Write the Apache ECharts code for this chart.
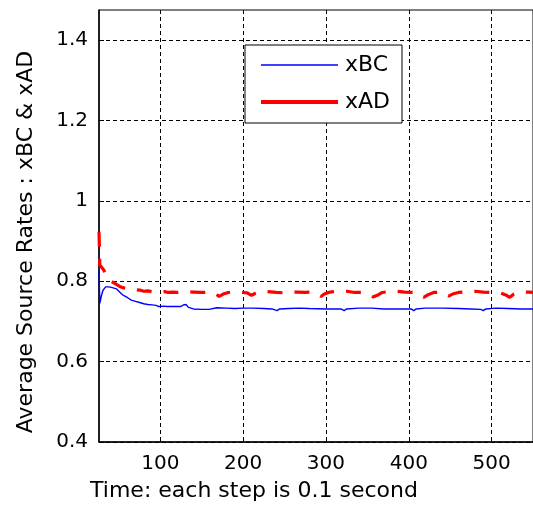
<!DOCTYPE html>
<html>
<head>
<meta charset="utf-8">
<script src="https://cdn.jsdelivr.net/npm/echarts@6/dist/echarts.min.js"></script>
<style>
html,body{margin:0;padding:0;background:#fff;}
#chart{width:533px;height:506px;}
</style>
</head>
<body>
<div id="chart"></div>
<script>
// ---- data ----
var xTicks = [100, 200, 300, 400, 500];
var yTicks = [0.4, 0.6, 0.8, 1.0, 1.2, 1.4];

var xbcSteps = [26, 27, 29, 31, 34, 38, 42, 47, 50, 53, 56, 59, 62, 65, 70, 75, 80, 85, 90, 95, 98, 100, 104, 108, 115, 125, 128, 131, 134, 140, 150, 155, 157, 159, 168, 180, 190, 200, 212, 225, 235, 241, 244, 255, 268, 280, 300, 318, 322, 325, 340, 355, 370, 390, 403, 406, 409, 420, 440, 460, 475, 487, 490, 493, 505, 520, 535, 550];
var xbcValues = [0.827, 0.745, 0.765, 0.778, 0.786, 0.786, 0.784, 0.781, 0.775, 0.769, 0.764, 0.761, 0.757, 0.753, 0.750, 0.747, 0.744, 0.742, 0.741, 0.740, 0.737, 0.736, 0.738, 0.737, 0.737, 0.737, 0.741, 0.742, 0.735, 0.731, 0.730, 0.730, 0.727, 0.730, 0.734, 0.733, 0.732, 0.733, 0.733, 0.732, 0.731, 0.727, 0.731, 0.732, 0.733, 0.732, 0.731, 0.731, 0.727, 0.731, 0.733, 0.733, 0.731, 0.731, 0.731, 0.727, 0.731, 0.733, 0.733, 0.732, 0.731, 0.730, 0.727, 0.731, 0.733, 0.732, 0.731, 0.731];

var xadSteps = [26, 27, 28, 31, 34, 37, 40, 43, 47, 51, 55, 60, 65, 70, 75, 80, 85, 90, 95, 100, 105, 110, 115, 120, 130, 140, 150, 160, 166, 171, 176, 182, 190, 198, 205, 210, 215, 222, 230, 240, 250, 258, 265, 275, 283, 290, 294, 298, 305, 315, 325, 335, 345, 352, 357, 362, 368, 375, 385, 395, 405, 413, 418, 423, 430, 440, 448, 453, 460, 470, 480, 490, 500, 510, 518, 522, 527, 535, 545, 550];
var xadValues = [0.923, 0.840, 0.840, 0.830, 0.820, 0.810, 0.800, 0.797, 0.792, 0.787, 0.784, 0.781, 0.782, 0.779, 0.778, 0.775, 0.776, 0.774, 0.775, 0.773, 0.774, 0.772, 0.773, 0.772, 0.774, 0.773, 0.772, 0.773, 0.770, 0.762, 0.768, 0.772, 0.774, 0.772, 0.771, 0.765, 0.770, 0.775, 0.774, 0.772, 0.771, 0.773, 0.773, 0.772, 0.773, 0.769, 0.762, 0.768, 0.773, 0.776, 0.775, 0.772, 0.772, 0.768, 0.761, 0.765, 0.772, 0.774, 0.775, 0.773, 0.772, 0.768, 0.760, 0.766, 0.772, 0.773, 0.763, 0.768, 0.772, 0.774, 0.775, 0.773, 0.772, 0.771, 0.765, 0.760, 0.768, 0.773, 0.773, 0.772];

var seriesNames = ['xBC', 'xAD'];
var xTitle = 'Time: each step is 0.1 second';
var yTitle = 'Average Source Rates : xBC & xAD';

function pairs(xs, ys) { return xs.map(function (x, i) { return [x, ys[i]]; }); }

var FONT = 'DejaVu Sans';
var chart = echarts.init(document.getElementById('chart'), null, { renderer: 'canvas' });
chart.setOption({
  animation: false,
  backgroundColor: '#ffffff',
  grid: { left: 99, top: 10, right: -2, bottom: 64, show: true, borderColor: '#000', borderWidth: 1, backgroundColor: 'transparent', containLabel: false },
  xAxis: {
    type: 'value', min: 26, max: 550,
    axisLine: { show: true, onZero: false, lineStyle: { color: '#000', width: 1.5 } },
    axisTick: { show: true, inside: true, length: 5, customValues: xTicks, lineStyle: { color: '#000' } },
    axisLabel: { customValues: xTicks, color: '#000', fontFamily: FONT, fontSize: 20, margin: 12 },
    splitLine: { show: true, lineStyle: { color: '#000', width: 1, type: [4, 3] } }
  },
  yAxis: {
    type: 'value', min: 0.4, max: 1.4747,
    axisLine: { show: true, onZero: false, lineStyle: { color: '#000', width: 1.5 } },
    axisTick: { show: true, inside: true, length: 5, customValues: yTicks, lineStyle: { color: '#000' } },
    axisLabel: { customValues: yTicks, color: '#000', fontFamily: FONT, fontSize: 20, margin: 11 },
    splitLine: { show: true, lineStyle: { color: '#000', width: 1, type: [4, 3] } }
  },
  legend: {
    show: true,
    orient: 'vertical', left: 245, top: 45,
    padding: [9, 12, 10, 14],
    itemWidth: 77, itemHeight: 14, itemGap: 15,
    backgroundColor: '#fff', borderColor: '#000', borderWidth: 1, borderRadius: 0,
    textStyle: { color: '#000', fontFamily: FONT, fontSize: 22, padding: [0, 0, 0, 2] },
    data: [
      { name: seriesNames[0], itemStyle: { opacity: 0 }, lineStyle: { type: 'solid', width: 1.7 } },
      { name: seriesNames[1], itemStyle: { opacity: 0 }, lineStyle: { type: 'solid', width: 4 } }
    ]
  },
  graphic: [
    { type: 'text', x: 254, y: 491, silent: true,
      style: { text: xTitle, fill: '#000', font: '22px "DejaVu Sans"', textAlign: 'center', textVerticalAlign: 'middle' } },
    { type: 'text', x: 26, y: 242, rotation: Math.PI / 2, silent: true,
      style: { text: yTitle, fill: '#000', font: '22px "DejaVu Sans"', textAlign: 'center', textVerticalAlign: 'middle' } }
  ],
  series: [
    { name: seriesNames[0], type: 'line', showSymbol: false, symbol: 'none', clip: true,
      lineStyle: { color: '#0000ff', width: 1.4 }, itemStyle: { color: '#0000ff' },
      data: pairs(xbcSteps, xbcValues) },
    { name: seriesNames[1], type: 'line', showSymbol: false, symbol: 'none', clip: true,
      lineStyle: { color: '#ff0000', width: 3.2, type: [15, 12] }, itemStyle: { color: '#ff0000' },
      data: pairs(xadSteps, xadValues) }
  ]
});
</script>
</body>
</html>
